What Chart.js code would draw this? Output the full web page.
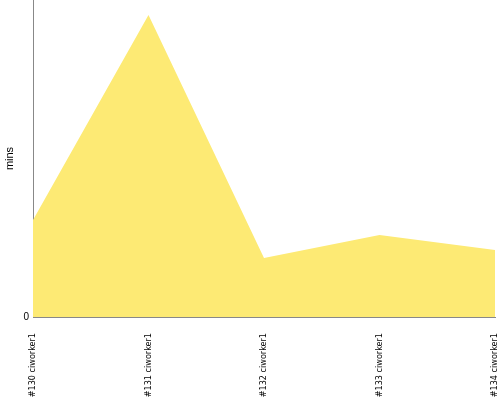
<!DOCTYPE html>
<html>
<head>
<meta charset="utf-8">
<script src="https://cdn.jsdelivr.net/npm/chart.js@4/dist/chart.umd.min.js"></script>
<style>
html,body{margin:0;padding:0;background:#fff;}
#wrap{width:500px;height:400px;}
</style>
</head>
<body>
<div id="wrap"><canvas id="myChart" width="500" height="400"></canvas></div>
<script>
// builds
var builds = ['#130 ciworker1', '#131 ciworker1', '#132 ciworker1', '#133 ciworker1', '#134 ciworker1'];
// duration in mins
var mins = [3.06, 9.53, 1.86, 2.59, 2.11];
var yMax = 10;

const ctx = document.getElementById('myChart').getContext('2d');
const myChart = new Chart(ctx, {
    type: 'line',
    data: {
        labels: builds,
        datasets: [{
            label: 'mins',
            data: mins,
            fill: 'origin',
            backgroundColor: '#fdea74',
            borderWidth: 0,
            borderColor: '#fdea74',
            pointRadius: 0,
            tension: 0
        }]
    },
    options: {
        responsive: false,
        animation: false,
        layout: {padding: {left: 3, right: 5, top: 0, bottom: 0}},
        plugins: {legend: {display: false}, tooltip: {enabled: false}},
        scales: {
            x: {
                offset: false,
                grid: {display: false, drawTicks: false},
                border: {display: true, color: '#888'},
                ticks: {
                    minRotation: 90, maxRotation: 90, padding: 16,
                    color: '#000',
                    font: {family: 'Liberation Sans Narrow, DejaVu Sans Condensed, sans-serif', size: 9}
                },
                afterFit: function (s) { s.height = 83; s.paddingLeft = 0; s.paddingRight = 0; }
            },
            y: {
                min: 0, max: yMax,
                grid: {display: false, drawTicks: false},
                border: {display: true, color: '#888'},
                title: {display: true, text: 'mins', color: '#000', padding: 0,
                        font: {family: 'Liberation Sans, sans-serif', size: 11}},
                ticks: {
                    color: '#000', padding: 4,
                    font: {family: 'Liberation Sans, sans-serif', size: 10},
                    callback: function (v) { return v === 0 ? '0' : ''; }
                },
                afterFit: function (s) { s.width = 30; s.paddingTop = 0; s.paddingBottom = 0; }
            }
        }
    }
});
</script>
</body>
</html>
